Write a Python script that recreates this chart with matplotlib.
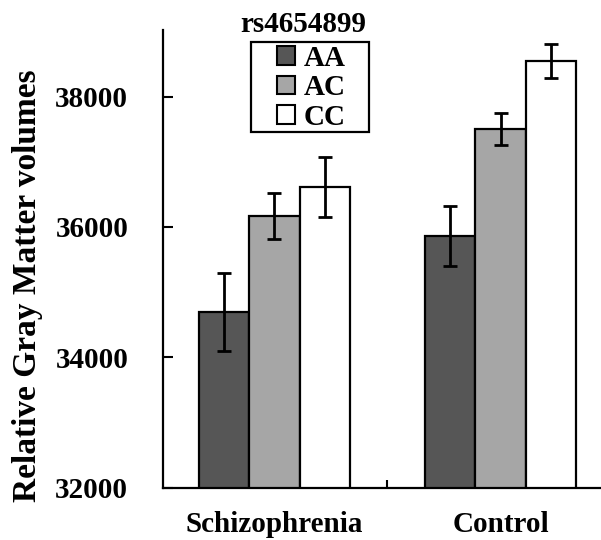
import matplotlib
matplotlib.use("Agg")
import matplotlib.pyplot as plt
import numpy as np
from matplotlib.patches import Patch, Rectangle

groups = ["Schizophrenia", "Control"]
genotypes = ["AA", "AC", "CC"]
means = {
    "AA": [34690, 35860],
    "AC": [36170, 37500],
    "CC": [36610, 38540],
}
errors = {
    "AA": [600, 460],
    "AC": [350, 250],
    "CC": [460, 260],
}
colors = {"AA": "#565656", "AC": "#a6a6a6", "CC": "#ffffff"}
yticks = [32000, 34000, 36000, 38000]

SERIF = ['Liberation Serif', 'DejaVu Serif']
plt.rcParams['font.family'] = SERIF
plt.rcParams['font.weight'] = 'bold'

fig = plt.figure(figsize=(6.01, 5.4), dpi=100)
ax = fig.add_axes([163/601, 1-487.7/540, (600-163)/601, (487.7-30)/540])

x = np.arange(len(groups))
w = 0.223
for i, g in enumerate(genotypes):
    ax.bar(x + (i-1)*w, means[g], w, bottom=0, color=colors[g], edgecolor='black',
           linewidth=1.6, yerr=errors[g], capsize=5,
           error_kw=dict(elinewidth=2, capthick=2, ecolor='black'), zorder=2)

ax.set_ylim(32000, 39020)
ax.set_xlim(-0.493, 1.44)
ax.set_yticks(yticks)
ax.set_yticklabels([str(v) for v in yticks], fontsize=21, fontweight='bold', family=SERIF)
ax.set_xticks(x)
ax.set_xticklabels(groups, fontsize=21, fontweight='bold', family=SERIF)
ax.tick_params(axis='x', length=0, pad=17)
ax.set_xticks([0.5], minor=True)
ax.tick_params(axis='x', which='minor', direction='in', length=6, width=1.5)
ax.tick_params(axis='y', direction='in', length=7, width=1.5, pad=25)
for s in ['top', 'right']:
    ax.spines[s].set_visible(False)
for s in ['left', 'bottom']:
    ax.spines[s].set_linewidth(1.6)

fig.text(28/601, 1-286/540, "Relative Gray Matter volumes", rotation=90,
         ha='center', va='center', fontsize=24, fontweight='bold', family=SERIF)

handles = [Patch(facecolor=colors[g], edgecolor='black', linewidth=1.5) for g in genotypes]
leg = fig.legend(handles, genotypes, loc='upper left',
                 bbox_to_anchor=(277/601, 1-45/540), borderaxespad=0,
                 frameon=False,
                 prop=dict(family=SERIF, weight='bold', size=21),
                 handlelength=0.6, handleheight=0.6, handletextpad=0.3,
                 labelspacing=0.08, borderpad=0)
fig.patches.append(Rectangle((251/601, 1-131.7/540), 118/601, 90/540,
                             transform=fig.transFigure, fill=False,
                             edgecolor='black', linewidth=1.6))
fig.text(303/601, 1-25/540, "rs4654899", ha='center', va='center',
         fontsize=21, fontweight='bold', family=SERIF)

fig.savefig("out.png", dpi=100)
